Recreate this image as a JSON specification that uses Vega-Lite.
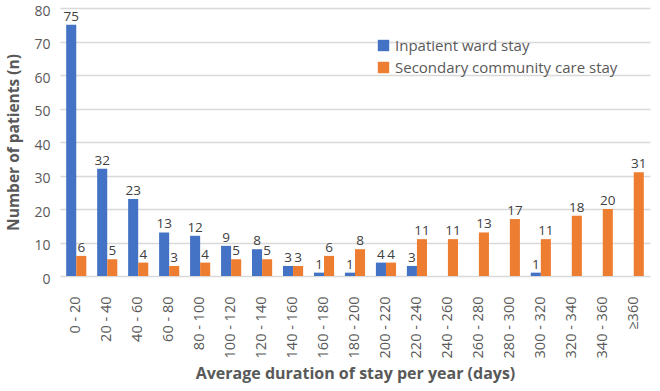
{
  "$schema": "https://vega.github.io/schema/vega-lite/v6.json",
  "autosize": {"type": "none"},
  "width": 590,
  "height": 268,
  "padding": {"left": 60, "top": 8, "right": 10, "bottom": 115},
  "background": "white",
  "config": {
    "font": "Open Sans",
    "view": {"stroke": null},
    "axis": {"labelColor": "#595959", "titleColor": "#595959", "labelFont": "Open Sans", "titleFont": "Open Sans"}
  },
  "data": {
    "values": [
      {"range": "0 - 20", "series": "Inpatient ward stay", "n": 75},
      {"range": "0 - 20", "series": "Secondary community care stay", "n": 6},
      {"range": "20 - 40", "series": "Inpatient ward stay", "n": 32},
      {"range": "20 - 40", "series": "Secondary community care stay", "n": 5},
      {"range": "40 - 60", "series": "Inpatient ward stay", "n": 23},
      {"range": "40 - 60", "series": "Secondary community care stay", "n": 4},
      {"range": "60 - 80", "series": "Inpatient ward stay", "n": 13},
      {"range": "60 - 80", "series": "Secondary community care stay", "n": 3},
      {"range": "80 - 100", "series": "Inpatient ward stay", "n": 12},
      {"range": "80 - 100", "series": "Secondary community care stay", "n": 4},
      {"range": "100 - 120", "series": "Inpatient ward stay", "n": 9},
      {"range": "100 - 120", "series": "Secondary community care stay", "n": 5},
      {"range": "120 - 140", "series": "Inpatient ward stay", "n": 8},
      {"range": "120 - 140", "series": "Secondary community care stay", "n": 5},
      {"range": "140 - 160", "series": "Inpatient ward stay", "n": 3},
      {"range": "140 - 160", "series": "Secondary community care stay", "n": 3},
      {"range": "160 - 180", "series": "Inpatient ward stay", "n": 1},
      {"range": "160 - 180", "series": "Secondary community care stay", "n": 6},
      {"range": "180 - 200", "series": "Inpatient ward stay", "n": 1},
      {"range": "180 - 200", "series": "Secondary community care stay", "n": 8},
      {"range": "200 - 220", "series": "Inpatient ward stay", "n": 4},
      {"range": "200 - 220", "series": "Secondary community care stay", "n": 4},
      {"range": "220 - 240", "series": "Inpatient ward stay", "n": 3},
      {"range": "220 - 240", "series": "Secondary community care stay", "n": 11},
      {"range": "240 - 260", "series": "Inpatient ward stay", "n": 0},
      {"range": "240 - 260", "series": "Secondary community care stay", "n": 11},
      {"range": "260 - 280", "series": "Inpatient ward stay", "n": 0},
      {"range": "260 - 280", "series": "Secondary community care stay", "n": 13},
      {"range": "280 - 300", "series": "Inpatient ward stay", "n": 0},
      {"range": "280 - 300", "series": "Secondary community care stay", "n": 17},
      {"range": "300 - 320", "series": "Inpatient ward stay", "n": 1},
      {"range": "300 - 320", "series": "Secondary community care stay", "n": 11},
      {"range": "320 - 340", "series": "Inpatient ward stay", "n": 0},
      {"range": "320 - 340", "series": "Secondary community care stay", "n": 18},
      {"range": "340 - 360", "series": "Inpatient ward stay", "n": 0},
      {"range": "340 - 360", "series": "Secondary community care stay", "n": 20},
      {"range": "≥360", "series": "Inpatient ward stay", "n": 0},
      {"range": "≥360", "series": "Secondary community care stay", "n": 31}
    ]
  },
  "encoding": {
    "x": {
      "field": "range",
      "type": "nominal",
      "sort": null,
      "scale": {"paddingInner": 0.35, "paddingOuter": 0.2},
      "axis": {
        "title": "Average duration of stay per year (days)",
        "titleFontSize": 16,
        "titleFontWeight": "bold",
        "titlePadding": 8,
        "labelAngle": -90,
        "labelFontSize": 14.5,
        "labelPadding": 20,
        "ticks": false,
        "domain": false
      }
    },
    "xOffset": {"field": "series", "type": "nominal", "sort": ["Inpatient ward stay", "Secondary community care stay"]},
    "y": {
      "field": "n",
      "type": "quantitative",
      "scale": {"domain": [0, 80]},
      "axis": {
        "title": "Number of patients (n)",
        "titleFontSize": 15.5,
        "titleFontWeight": "bold",
        "titlePadding": 12,
        "values": [0, 10, 20, 30, 40, 50, 60, 70, 80],
        "labelFontSize": 14,
        "labelPadding": 10,
        "labelOffset": 3,
        "ticks": false,
        "domain": false,
        "gridColor": "#d9d9d9",
        "gridWidth": 1.5
      }
    }
  },
  "layer": [
    {
      "mark": {"type": "bar"},
      "encoding": {
        "color": {
          "field": "series",
          "type": "nominal",
          "sort": ["Inpatient ward stay", "Secondary community care stay"],
          "scale": {"range": ["#4472C4", "#ED7D31"]},
          "legend": {
            "title": null,
            "orient": "none",
            "legendX": 316,
            "legendY": 30,
            "symbolType": "square",
            "symbolSize": 130,
            "symbolStrokeWidth": 0,
            "labelFontSize": 15,
            "labelColor": "#595959",
            "labelFont": "Open Sans",
            "labelLimit": 400,
            "rowPadding": 6,
            "labelOffset": 4
          }
        }
      }
    },
    {
      "transform": [{"filter": "datum.n > 0"}],
      "mark": {"type": "text", "baseline": "bottom", "dy": -1, "fontSize": 13.5, "color": "#404040"},
      "encoding": {
        "text": {"field": "n", "type": "quantitative"}
      }
    }
  ]
}
